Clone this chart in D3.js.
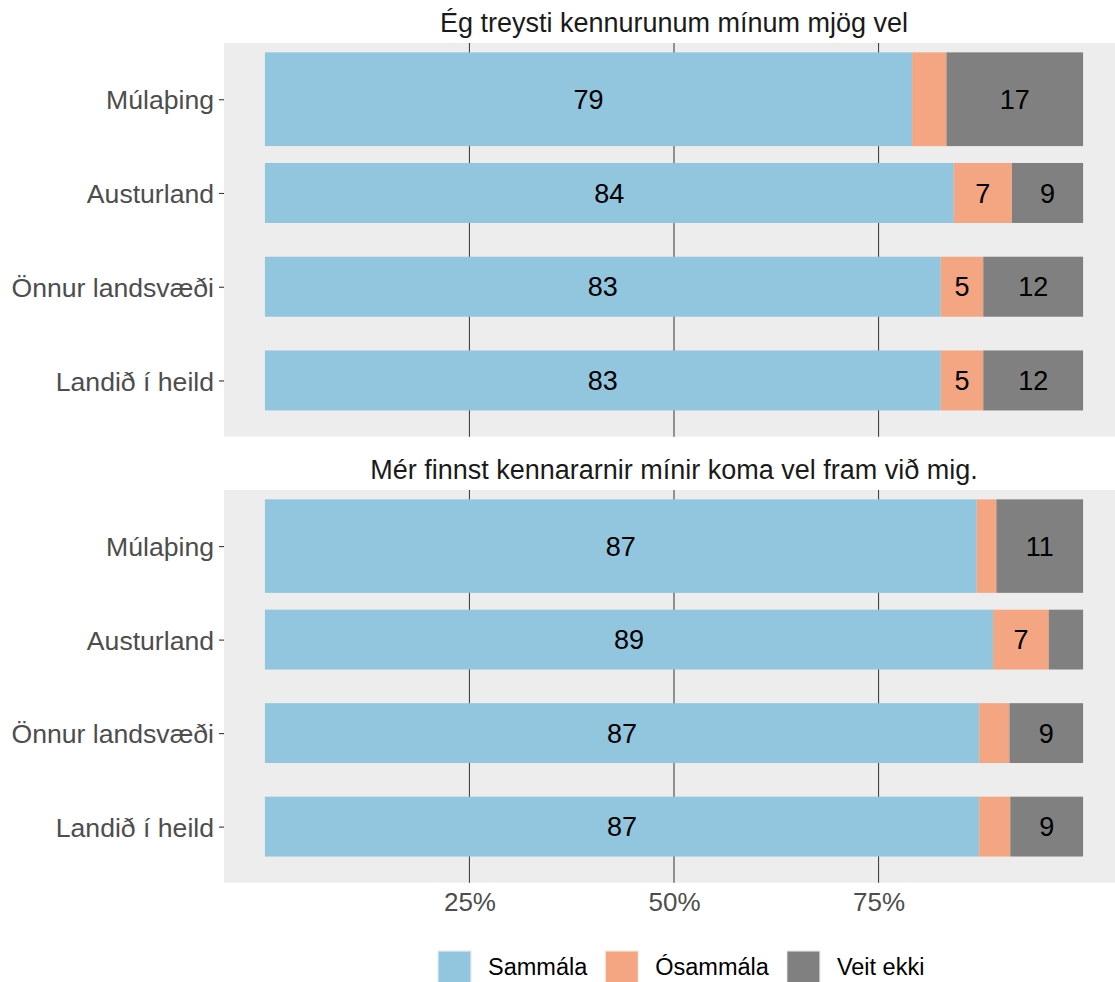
<!DOCTYPE html>
<html lang="is">
  <head>
    <meta charset="UTF-8" />
    <title>Traust til kennara</title>
    <style>
      body {
        margin: 0;
        background: #ffffff;
      }
      svg text {
        font-family: "Liberation Sans", Arial, sans-serif;
      }
    </style>
  </head>
  <body>
    <script src="https://d3js.org/d3.v7.min.js"></script>
    <svg id="chart" width="1115" height="982"></svg>
    <script>
      // Data (percent)
      var categories = ["Múlaþing", "Austurland", "Önnur landsvæði", "Landið í heild"];
      var answers = ["Sammála", "Ósammála", "Veit ekki"];
      var titles = [
        "Ég treysti kennurunum mínum mjög vel",
        "Mér finnst kennararnir mínir koma vel fram við mig.",
      ];
      // one row per category: [Sammála, Ósammála, Veit ekki]
      var trustValues = [
        [79.1, 4.2, 16.7],
        [84.2, 7.1, 8.7],
        [82.6, 5.2, 12.2],
        [82.6, 5.2, 12.2],
      ];
      var treatValues = [
        [87.0, 2.4, 10.6],
        [89.0, 6.8, 4.2],
        [87.3, 3.7, 9.0],
        [87.3, 3.8, 8.9],
      ];
      var xTicks = [0.25, 0.5, 0.75];

      var colors = ["#92C5DE", "#F4A582", "#808080"];
      var barWidths = [1, 0.64, 0.64, 0.64];

      var svg = d3.select("#chart");

      // shared x scale (ggplot style 5% expansion)
      var x = d3.scaleLinear().domain([-0.05, 1.05]).range([224, 1124]);

      var panels = [
        { title: titles[0], values: trustValues, top: 43, bottom: 436.7, titleY: 32 },
        { title: titles[1], values: treatValues, top: 490, bottom: 882.7, titleY: 478.5 },
      ];

      panels.forEach(function (p, pi) {
        var y = d3.scalePoint().domain(categories).range([p.top, p.bottom]).padding(0.6);
        var step = y.step();

        // panel background
        svg
          .append("rect")
          .attr("x", x.range()[0])
          .attr("y", p.top)
          .attr("width", x.range()[1] - x.range()[0])
          .attr("height", p.bottom - p.top)
          .attr("fill", "#EDEDED");

        // vertical grid lines
        svg
          .append("g")
          .selectAll("line")
          .data(xTicks)
          .enter()
          .append("line")
          .attr("x1", function (d) { return x(d); })
          .attr("x2", function (d) { return x(d); })
          .attr("y1", p.top)
          .attr("y2", p.bottom)
          .attr("stroke", "#444")
          .attr("stroke-width", 1.1);

        // stack the rows
        var rows = p.values.map(function (v, i) {
          var acc = 0;
          return v.map(function (val, k) {
            var seg = { cat: categories[i], idx: i, k: k, v: val, x0: acc / 100, x1: (acc + val) / 100 };
            acc += val;
            return seg;
          });
        });
        var segs = [].concat.apply([], rows);

        var g = svg.append("g");
        g.selectAll("rect")
          .data(segs)
          .enter()
          .append("rect")
          .attr("x", function (d) { return x(d.x0); })
          .attr("width", function (d) { return x(d.x1) - x(d.x0); })
          .attr("y", function (d) { return y(d.cat) - (barWidths[d.idx] * step) / 2; })
          .attr("height", function (d) { return barWidths[d.idx] * step; })
          .attr("fill", function (d) { return colors[d.k]; });

        // value labels (hidden for small segments)
        g.selectAll("text")
          .data(segs.filter(function (d) { return d.v >= 5; }))
          .enter()
          .append("text")
          .attr("x", function (d) { return x((d.x0 + d.x1) / 2); })
          .attr("y", function (d) { return y(d.cat); })
          .attr("dy", "0.36em")
          .attr("text-anchor", "middle")
          .attr("font-size", 27)
          .attr("fill", "#000")
          .text(function (d) { return Math.round(d.v); });

        // y axis
        var yAxis = svg
          .append("g")
          .attr("transform", "translate(" + x.range()[0] + ",0)")
          .call(d3.axisLeft(y).tickSize(5).tickPadding(5));
        yAxis.select(".domain").remove();
        yAxis.selectAll(".tick line").attr("stroke", "#333").attr("stroke-width", 1.1);
        yAxis
          .selectAll(".tick text")
          .attr("font-size", 26.6)
          .attr("fill", "#4D4D4D")
          .attr("dy", "0.36em");

        // facet title
        svg
          .append("text")
          .attr("x", (x.range()[0] + x.range()[1]) / 2)
          .attr("y", p.titleY)
          .attr("text-anchor", "middle")
          .attr("font-size", 27)
          .attr("fill", "#1A1A1A")
          .text(p.title);

        if (pi === panels.length - 1) {
          var xAxis = svg
            .append("g")
            .attr("transform", "translate(0," + p.bottom + ")")
            .call(d3.axisBottom(x).tickValues(xTicks).tickSize(0).tickPadding(10).tickFormat(d3.format(".0%")));
          xAxis.select(".domain").remove();
          xAxis.selectAll(".tick text").attr("font-size", 26).attr("fill", "#4D4D4D");
        }
      });

      // legend
      var legend = svg.append("g").attr("transform", "translate(437,950)");
      var lx = 0;
      answers.forEach(function (a, i) {
        var item = legend.append("g").attr("transform", "translate(" + lx + ",0)");
        item.append("rect").attr("width", 35).attr("height", 35).attr("fill", "#F2F2F2");
        item
          .append("rect")
          .attr("x", 1.5)
          .attr("y", 1.5)
          .attr("width", 32)
          .attr("height", 32)
          .attr("fill", colors[i]);
        var t = item
          .append("text")
          .attr("x", 51)
          .attr("y", 25)
          .attr("font-size", 23.5)
          .attr("fill", "#000")
          .text(a);
        lx += 51 + t.node().getComputedTextLength() + 17;
      });
    </script>
  </body>
</html>
